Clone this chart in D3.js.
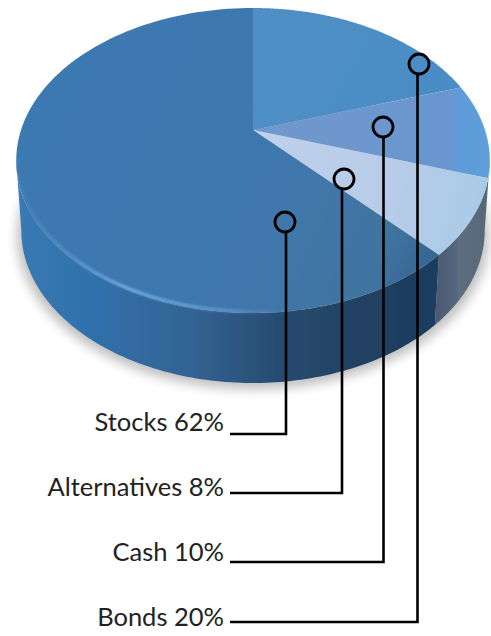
<!DOCTYPE html>
<html>
<head>
<meta charset="utf-8">
<style>
  html, body { margin: 0; padding: 0; background: #fff; }
  svg { display: block; }
  text { font-family: Lato, sans-serif; font-size: 25.5px; fill: #222; text-anchor: end; }
</style>
<script src="https://cdn.jsdelivr.net/npm/d3@7"></script>
</head>
<body>
<script>
var categories = ["Bonds", "Cash", "Alternatives", "Stocks"];
var shares = [20, 10, 8, 62];

var w = 491, h = 636;
var svg = d3.select("body").append("svg").attr("width", w).attr("height", h);
var defs = svg.append("defs");

// perspective tilted disc: theta clockwise from top, r 0..1
var cx = 253, apexY = 130, rimX = 232, rimY = 146.4, tilt = 0.2;
var project = function(theta, r, drop, shrink) {
  var u = r * Math.sin(theta), v = -r * Math.cos(theta);
  var den = 1 - tilt * v;
  return [cx + (rimX - (shrink || 0)) * u / den, apexY + (drop || 0) + rimY * v / den];
};
var line = d3.line();

var rimPoints = function(a0, a1, drop, shrink) {
  return d3.range(0, 121).map(function(i) {
    return project(a0 + (a1 - a0) * i / 120, 1, drop, shrink);
  });
};

var pie = d3.pie().sort(null).value(function(d) { return d; });
var slices = pie(shares);

var addGradient = function(id, x1, y1, x2, y2, stops) {
  var g = defs.append("linearGradient").attr("id", id)
    .attr("gradientUnits", "userSpaceOnUse")
    .attr("x1", x1).attr("y1", y1).attr("x2", x2).attr("y2", y2);
  stops.forEach(function(s) {
    g.append("stop").attr("offset", s[0]).attr("stop-color", s[1]).attr("stop-opacity", s[2] === undefined ? 1 : s[2]);
  });
};

addGradient("gBonds", 254, 10, 440, 120, [[0, "#4f8fc4"], [1, "#4a8cc6"]]);
addGradient("gCash", 254, 130, 490, 130, [[0, "#7098cc"], [0.83, "#6a96d0"], [0.86, "#5f9bd8"], [1, "#5f9fdc"]]);
addGradient("gAlt", 254, 130, 490, 190, [[0, "#bfd1eb"], [0.6, "#b7cce8"], [1, "#a9cbe8"]]);
addGradient("gStocks", 20, 100, 445, 290, [[0, "#3b79b1"], [0.6, "#3f78ad"], [0.85, "#41739f"], [1, "#2f5f8e"]]);
addGradient("gWall", 20, 0, 440, 0, [[0, "#3a7ab4"], [0.18, "#2f70aa"], [0.4, "#336495"], [0.62, "#274b70"], [0.85, "#203f60"], [1, "#1d3d60"]]);
addGradient("gWallGrey", 438, 0, 490, 0, [[0, "#4d5a72"], [0.35, "#566680"], [0.4, "#5c6e80"], [1, "#566878"]]);
addGradient("gGlint", 20, 0, 290, 0, [[0, "#6aa8e0", 0.1], [0.4, "#74aee2", 0.95], [0.75, "#6ca4d8", 0.7], [1, "#5f94c6", 0]]);

defs.append("filter").attr("id", "soft").attr("x", "-5%").attr("y", "-5%").attr("width", "110%").attr("height", "110%")
  .append("feGaussianBlur").attr("stdDeviation", 0.6);
defs.append("filter").attr("id", "shadow").attr("x", "-10%").attr("y", "-10%").attr("width", "120%").attr("height", "120%")
  .append("feGaussianBlur").attr("stdDeviation", 6);
defs.append("filter").attr("id", "glint").attr("x", "-5%").attr("y", "-20%").attr("width", "110%").attr("height", "140%")
  .append("feGaussianBlur").attr("stdDeviation", 1.2);

// shadow under the disc
svg.append("path")
  .attr("d", line(rimPoints(0, 2 * Math.PI, 76, 1)) + "Z")
  .attr("fill", "#000").attr("opacity", 0.26)
  .attr("filter", "url(#shadow)");

var pieG = svg.append("g").attr("filter", "url(#soft)");

// side wall, running between the two widest points of the rim
var wallDrop = 70, wallShrink = 5;
var wallRight = 0.564 * Math.PI, wallLeft = 1.436 * Math.PI;
var wallPath = function(a0, a1) {
  var top = rimPoints(a0, a1, 0, 0);
  var bottom = rimPoints(a0, a1, wallDrop, wallShrink).reverse();
  return line(top.concat(bottom)) + "Z";
};
var stocks = slices[3];
pieG.append("path").attr("d", wallPath(stocks.startAngle, wallLeft)).attr("fill", "url(#gWall)");
pieG.append("path").attr("d", wallPath(wallRight, stocks.startAngle)).attr("fill", "url(#gWallGrey)");

// top face
var faces = ["url(#gBonds)", "url(#gCash)", "url(#gAlt)", "url(#gStocks)"];
pieG.selectAll("path.face")
  .data(slices)
  .enter().append("path")
    .attr("class", "face")
    .attr("fill", function(d, i) { return faces[i]; })
    .attr("d", function(d) {
      return line([project(0, 0)].concat(rimPoints(d.startAngle, d.endAngle))) + "Z";
    });

// bevel glint along the front rim
svg.append("path")
  .attr("d", line(rimPoints(0.96 * Math.PI, 1.44 * Math.PI, -1.5, 1)))
  .attr("fill", "none").attr("stroke", "url(#gGlint)").attr("stroke-width", 3)
  .attr("filter", "url(#glint)");

// callouts, same order as categories
var labelEnd = 224, lineStart = 230;
var callouts = [
  {dot: [419, 64], run: 417.5, rowY: 622, textY: 626},
  {dot: [383, 127], run: 383.5, rowY: 562, textY: 561},
  {dot: [344, 179], run: 342, rowY: 493, textY: 496},
  {dot: [285, 222], run: 286, rowY: 434, textY: 431}
];

var g = svg.selectAll("g.callout")
  .data(callouts)
  .enter().append("g").attr("class", "callout");

g.append("path")
  .attr("fill", "none").attr("stroke", "#000").attr("stroke-width", 2.6)
  .attr("d", function(d) {
    return line([[d.run, d.dot[1] + 10], [d.run, d.rowY], [lineStart, d.rowY]]);
  });
g.append("circle")
  .attr("cx", function(d) { return d.dot[0]; })
  .attr("cy", function(d) { return d.dot[1]; })
  .attr("r", 10)
  .attr("fill", "none").attr("stroke", "#000").attr("stroke-width", 2.8);
g.append("text")
  .attr("x", labelEnd)
  .attr("y", function(d) { return d.textY; })
  .text(function(d, i) { return categories[i] + " " + shares[i] + "%"; });
</script>
</body>
</html>
